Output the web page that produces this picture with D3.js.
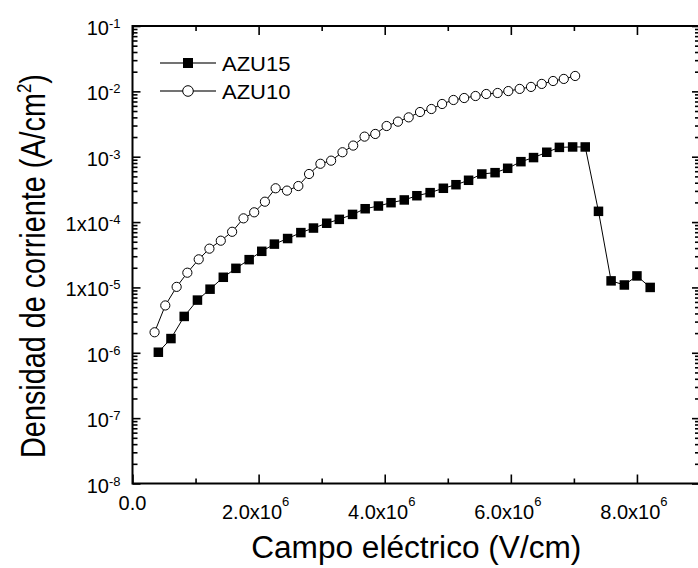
<!DOCTYPE html>
<html>
<head>
<meta charset="utf-8">
<script src="https://cdn.jsdelivr.net/npm/d3@7"></script>
<style>
  body { margin: 0; background: #fff; }
  text { font-family: "Liberation Sans", Arial, sans-serif; fill: #000; }
</style>
</head>
<body>
<div id="container"></div>
<script>
const WIDTH = 698,
  HEIGHT = 568;

// Data (x in V/cm, y in A/cm^2)
const azu15X = [0.41, 0.61, 0.82, 1.03, 1.23, 1.44, 1.64, 1.85, 2.05, 2.25, 2.46, 2.67, 2.87, 3.08, 3.28, 3.49, 3.69, 3.90, 4.10, 4.31,
  4.51, 4.72, 4.93, 5.13, 5.33, 5.54, 5.75, 5.95, 6.16, 6.36, 6.57, 6.77, 6.98, 7.18, 7.39, 7.59, 7.80, 8.00, 8.21].map(v => v * 1e6);
const azu15Y = [1.02e-6, 1.65e-6, 3.6e-6, 6.4e-6, 9.4e-6, 1.43e-5, 1.96e-5, 2.66e-5, 3.57e-5, 4.6e-5, 5.6e-5, 6.9e-5, 8.1e-5, 9.6e-5,
  1.1e-4, 1.31e-4, 1.6e-4, 1.76e-4, 1.98e-4, 2.18e-4, 2.53e-4, 2.82e-4, 3.29e-4, 3.73e-4, 4.36e-4, 5.44e-4, 5.7e-4, 6.65e-4,
  8.4e-4, 9.7e-4, 1.17e-3, 1.39e-3, 1.41e-3, 1.41e-3, 1.46e-4, 1.26e-5, 1.09e-5, 1.5e-5, 1.0e-5];

const azu10X = [0.35, 0.52, 0.70, 0.87, 1.05, 1.22, 1.40, 1.58, 1.76, 1.93, 2.10, 2.27, 2.45, 2.63, 2.80, 2.98, 3.15, 3.33, 3.50, 3.68,
  3.85, 4.03, 4.21, 4.38, 4.56, 4.74, 4.91, 5.09, 5.26, 5.44, 5.61, 5.79, 5.96, 6.14, 6.32, 6.49, 6.67, 6.84, 7.02].map(v => v * 1e6);
const azu10Y = [2.06e-6, 5.3e-6, 1.02e-5, 1.68e-5, 2.69e-5, 3.92e-5, 5.19e-5, 7.1e-5, 1.14e-4, 1.41e-4, 2.05e-4, 3.29e-4, 3.03e-4,
  3.56e-4, 5.44e-4, 7.8e-4, 8.7e-4, 1.17e-3, 1.48e-3, 2.03e-3, 2.23e-3, 2.95e-3, 3.44e-3, 4.0e-3, 4.83e-3, 5.37e-3, 6.41e-3,
  7.38e-3, 7.91e-3, 8.49e-3, 9.11e-3, 9.44e-3, 1.01e-2, 1.09e-2, 1.17e-2, 1.30e-2, 1.44e-2, 1.55e-2, 1.72e-2];

const seriesNames = ["AZU15", "AZU10"];

// Tick labels
const xTicks = [0, 2e6, 4e6, 6e6, 8e6];
const xTickBase = ["0.0", "2.0x10", "4.0x10", "6.0x10", "8.0x10"];
const xTickExp = ["", "6", "6", "6", "6"];
const yTicks = [1e-1, 1e-2, 1e-3, 1e-4, 1e-5, 1e-6, 1e-7, 1e-8];
const yTickBase = ["10", "10", "10", "1x10", "1x10", "10", "10", "10"];
const yTickExp = ["-1", "-2", "-3", "-4", "-5", "-6", "-7", "-8"];

const svg = d3.select("#container")
  .append("svg")
  .attr("width", WIDTH)
  .attr("height", HEIGHT);

// Scales
const xScale = d3.scaleLinear()
  .domain([0, 9e6])
  .range([132.5, 700]);

const yScale = d3.scaleLog()
  .domain([1e-8, 1e-1])
  .range([483.5, 26]);

const [x0, x1] = xScale.range();
const [y0, y1] = yScale.range();

const xMinor = xScale.ticks(9).filter(t => !xTicks.includes(t));
const yMinor = yScale.ticks().filter(t => !yTicks.some(m => Math.abs(m - t) / m < 1e-6));

function styleAxis(g) {
  g.select(".domain").remove();
  g.selectAll(".tick line").attr("stroke", "#000").attr("stroke-width", 1.6);
  g.selectAll(".tick text").remove();
}

// Bottom & top
svg.append("g").attr("transform", `translate(0,${y0})`)
  .call(d3.axisBottom(xScale).tickValues(xTicks).tickSize(-9)).call(styleAxis);
svg.append("g").attr("transform", `translate(0,${y0})`)
  .call(d3.axisBottom(xScale).tickValues(xMinor).tickSize(-5)).call(styleAxis);
svg.append("g").attr("transform", `translate(0,${y1})`)
  .call(d3.axisTop(xScale).tickValues(xTicks).tickSize(-9)).call(styleAxis);
svg.append("g").attr("transform", `translate(0,${y1})`)
  .call(d3.axisTop(xScale).tickValues(xMinor).tickSize(-5)).call(styleAxis);

// Left & right
svg.append("g").attr("transform", `translate(${x0},0)`)
  .call(d3.axisLeft(yScale).tickValues(yTicks).tickSize(-8)).call(styleAxis);
svg.append("g").attr("transform", `translate(${x0},0)`)
  .call(d3.axisLeft(yScale).tickValues(yMinor).tickSize(-5)).call(styleAxis);
svg.append("g").attr("transform", `translate(${x1},0)`)
  .call(d3.axisRight(yScale).tickValues(yTicks).tickSize(-8)).call(styleAxis);
svg.append("g").attr("transform", `translate(${x1},0)`)
  .call(d3.axisRight(yScale).tickValues(yMinor).tickSize(-5)).call(styleAxis);

// Frame
svg.append("rect")
  .attr("x", x0).attr("y", y1)
  .attr("width", x1 - x0).attr("height", y0 - y1)
  .attr("fill", "none").attr("stroke", "#000").attr("stroke-width", 2);

// Tick labels
const xLab = svg.append("g").selectAll("text")
  .data(xTicks)
  .join("text")
  .attr("x", (d, i) => xScale(d) - (xTickExp[i] ? 3 : 0))
  .attr("y", (d, i) => xTickExp[i] ? y0 + 35 : y0 + 26)
  .attr("text-anchor", "middle")
  .style("font-size", "20px");
xLab.append("tspan").text((d, i) => xTickBase[i]);
xLab.append("tspan").attr("dy", -13).style("font-size", "13px").text((d, i) => xTickExp[i]);

const yLab = svg.append("g").selectAll("text")
  .data(yTicks)
  .join("text")
  .attr("x", x0 - 12)
  .attr("y", d => yScale(d) + 9)
  .attr("text-anchor", "end")
  .style("font-size", "20px");
yLab.append("tspan").text((d, i) => yTickBase[i]);
yLab.append("tspan").attr("dy", -7).style("font-size", "13px").text((d, i) => yTickExp[i]);

// Axis titles
svg.append("text")
  .attr("transform", `translate(${(x0 + x1) / 2},558) scale(1.02,1)`)
  .attr("text-anchor", "middle")
  .style("font-size", "31px")
  .text("Campo eléctrico (V/cm)");

const yTitle = svg.append("text")
  .attr("transform", "translate(45,266) scale(1.2,1) rotate(-90)")
  .attr("text-anchor", "middle")
  .style("font-size", "28.8px");
yTitle.append("tspan").text("Densidad de corriente (A/cm");
yTitle.append("tspan").attr("dy", -12).style("font-size", "17px").text("2");
yTitle.append("tspan").attr("dy", 12).text(")");

// Series
const azu15 = azu15X.map((x, i) => ({ x, y: azu15Y[i] }));
const azu10 = azu10X.map((x, i) => ({ x, y: azu10Y[i] }));

const line = d3.line().x(d => xScale(d.x)).y(d => yScale(d.y));

svg.append("path").datum(azu10)
  .attr("d", line).attr("fill", "none").attr("stroke", "#000").attr("stroke-width", 1);
svg.append("path").datum(azu15)
  .attr("d", line).attr("fill", "none").attr("stroke", "#000").attr("stroke-width", 1);

svg.selectAll(".c10")
  .data(azu10)
  .join("circle")
  .attr("class", "c10")
  .attr("cx", d => xScale(d.x))
  .attr("cy", d => yScale(d.y))
  .attr("r", 4.6)
  .attr("fill", "#fff")
  .attr("stroke", "#000")
  .attr("stroke-width", 1);

const SQ = 9.5;
svg.selectAll(".s15")
  .data(azu15)
  .join("rect")
  .attr("class", "s15")
  .attr("x", d => xScale(d.x) - SQ / 2)
  .attr("y", d => yScale(d.y) - SQ / 2)
  .attr("width", SQ).attr("height", SQ)
  .attr("fill", "#000");

// Legend
const legend = svg.append("g").selectAll("g")
  .data(seriesNames)
  .join("g")
  .attr("transform", (d, i) => `translate(160,${63 + i * 28})`);
legend.append("line")
  .attr("x1", 0).attr("x2", 56)
  .attr("stroke", "#444").attr("stroke-width", 1.3);
legend.filter((d, i) => i === 0).append("rect")
  .attr("x", 28 - 5).attr("y", -5)
  .attr("width", 10).attr("height", 10).attr("fill", "#000");
legend.filter((d, i) => i === 1).append("circle")
  .attr("cx", 28).attr("r", 5.3)
  .attr("fill", "#fff").attr("stroke", "#000").attr("stroke-width", 1);
legend.append("text")
  .attr("transform", "translate(62,7.5) scale(1.1,1)")
  .style("font-size", "20px")
  .text(d => d);
</script>
</body>
</html>
